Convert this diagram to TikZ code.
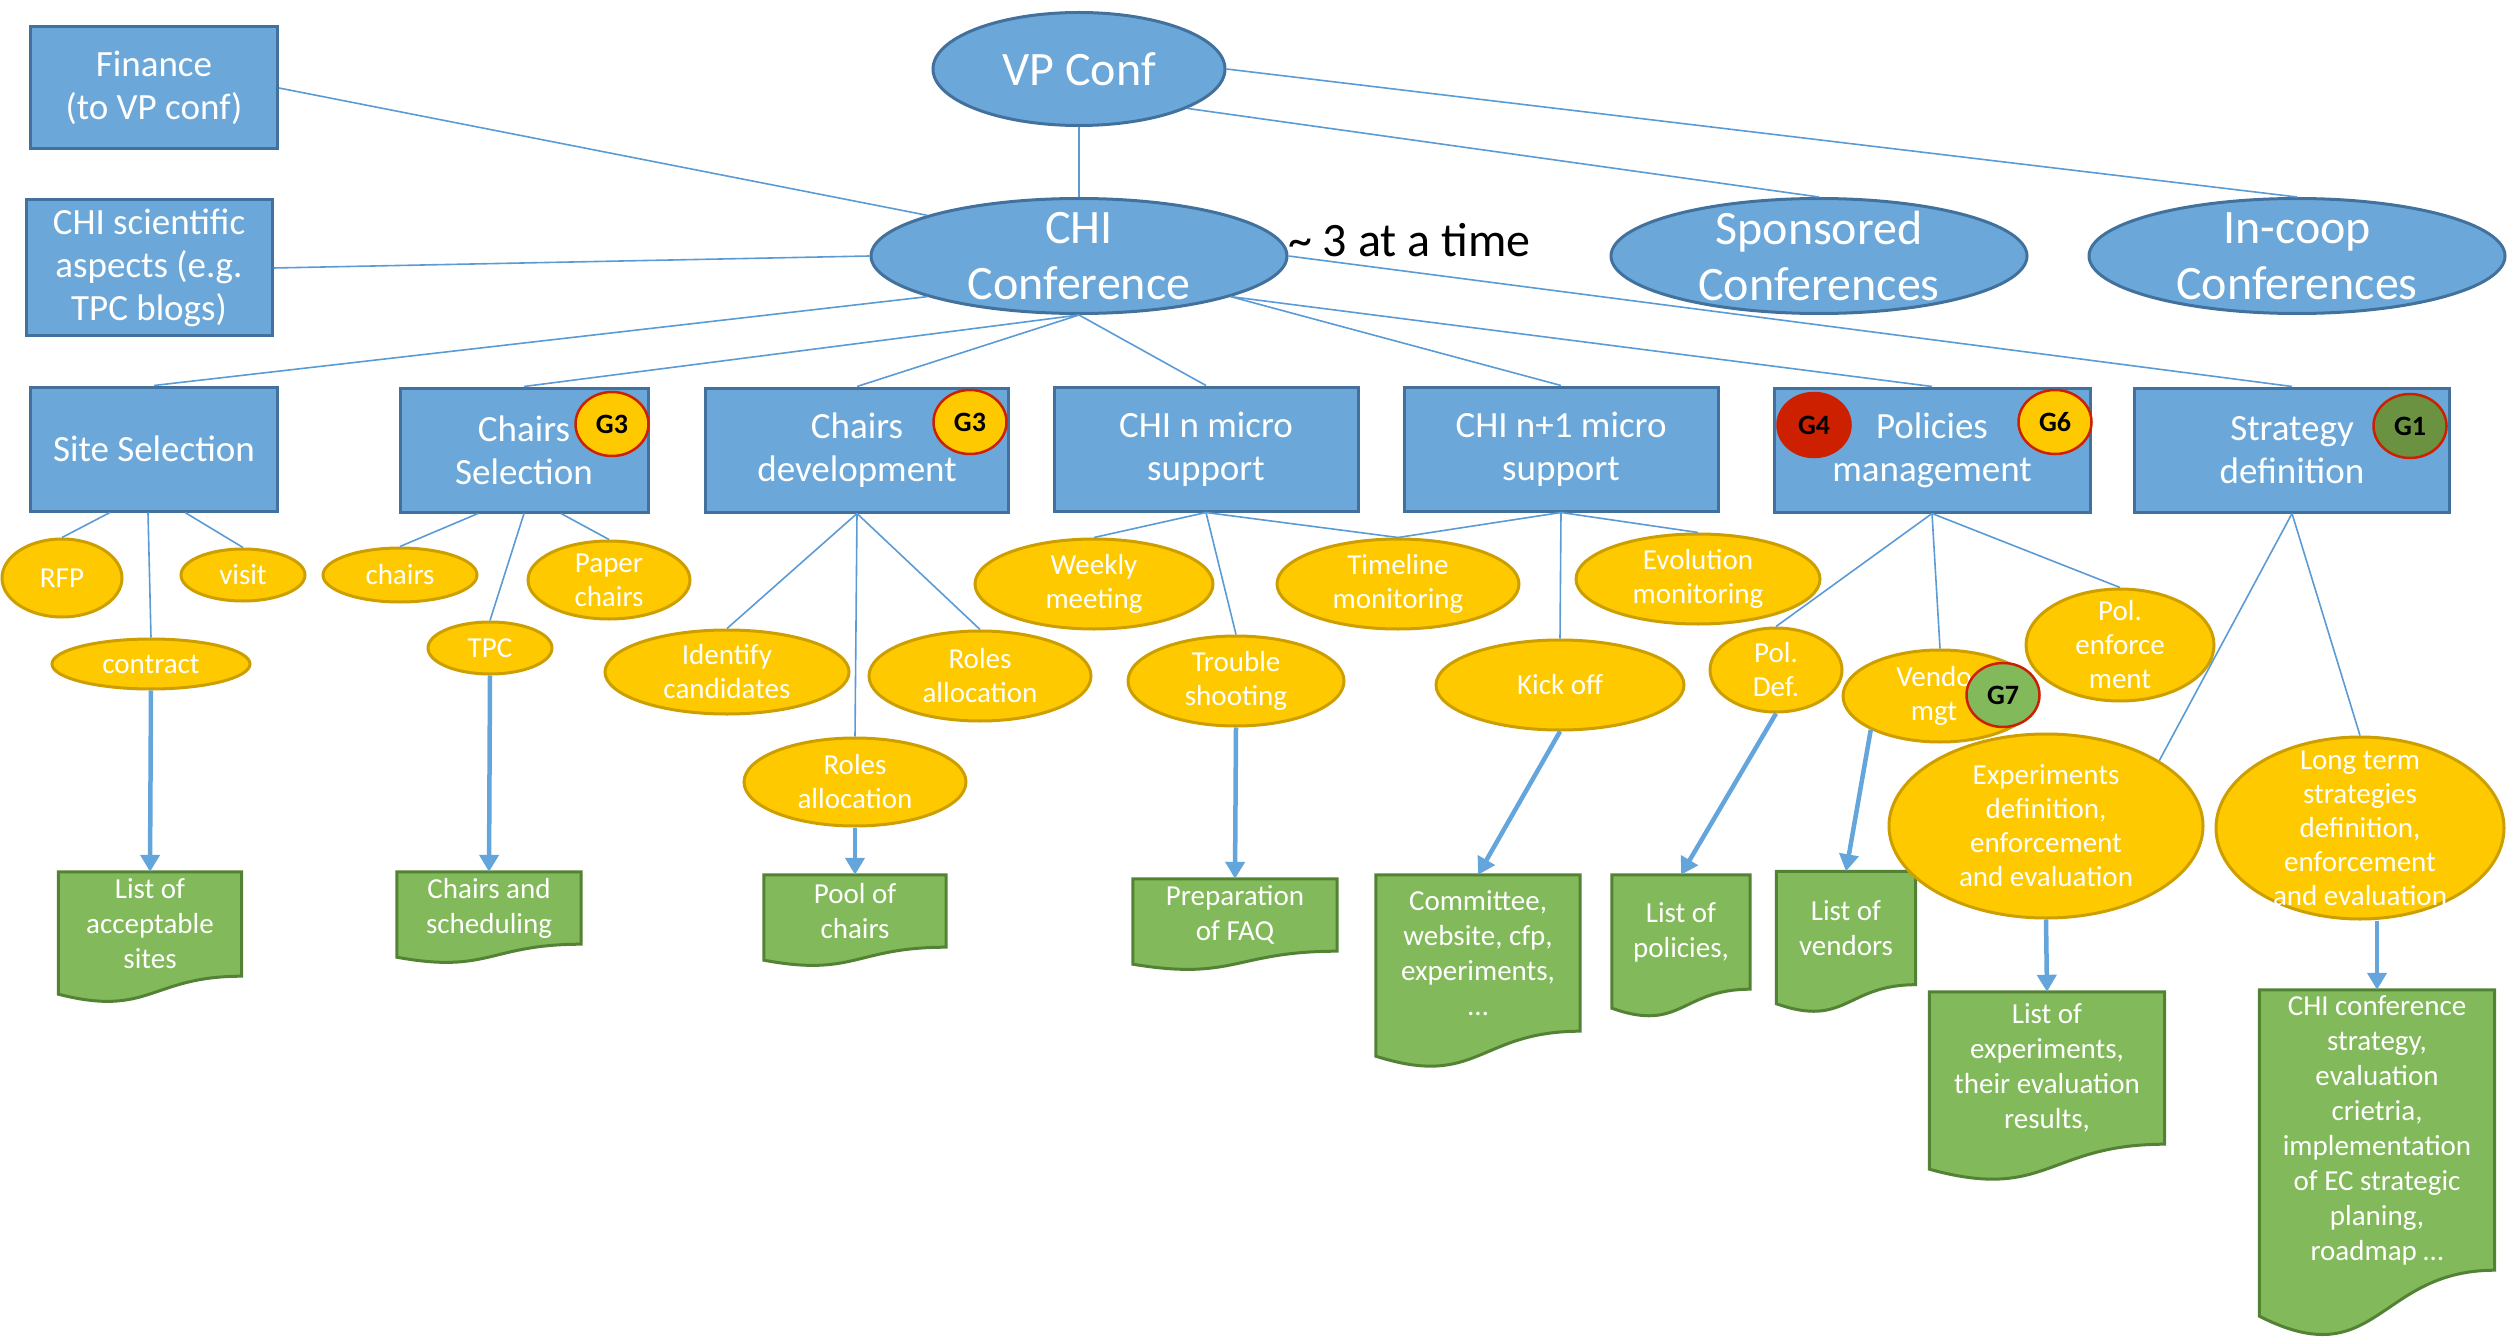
\documentclass[tikz,border=0pt]{standalone}
\usepackage{fontspec}
\setmainfont{Carlito}
\usetikzlibrary{shapes.geometric,arrows.meta,calc,backgrounds}

\definecolor{boxblue}{RGB}{107,168,217}
\definecolor{boxline}{RGB}{65,113,156}
\definecolor{linkblue}{RGB}{91,155,213}
\definecolor{arrowblue}{RGB}{100,165,220}
\definecolor{taskyellow}{RGB}{255,201,0}
\definecolor{taskline}{RGB}{204,158,0}
\definecolor{docgreen}{RGB}{130,185,90}
\definecolor{docline}{RGB}{84,130,53}
\definecolor{badgered}{RGB}{204,32,0}
\definecolor{badgeolive}{RGB}{106,146,64}

% document shape with a wavy bottom, drawn round a named node
\newcommand{\docshape}[2]{%
  \filldraw[docbody] (#1.north west) -- (#1.north east) -- (#1.south east)
    .. controls (#1.south) and ($(#1.south)+(0,2.3*#2)$) .. ($(#1.south west)+(0,#2)$) -- cycle;}

\begin{document}
\begin{tikzpicture}[x=1pt,y=1pt,yscale=-1,
  group/.style={draw=boxline,fill=boxblue,line width=3pt,text=white,align=center,inner sep=0pt,minimum height=124pt,font=\fontsize{37}{43}\selectfont},
  conf/.style={ellipse,draw=boxline,fill=boxblue,line width=3pt,inner sep=0pt,minimum width=416pt,minimum height=115pt},
  conftext/.style={text=white,align=center,inner sep=0pt,font=\fontsize{48}{56}\selectfont},
  task/.style={ellipse,draw=taskline,fill=taskyellow,line width=3pt,inner sep=0pt},
  tasktext/.style={text=white,align=center,inner sep=0pt,font=\fontsize{29}{34}\selectfont},
  badge/.style={ellipse,draw=badgered,line width=2.5pt,inner sep=0pt,minimum width=73pt,minimum height=64pt,font=\fontsize{28}{34}\selectfont\bfseries},
  doc/.style={inner sep=0pt,text=white,align=center,font=\fontsize{29}{35}\selectfont},
  docbody/.style={fill=docgreen,draw=docline,line width=3pt},
  link/.style={draw=linkblue,line width=1.6pt},
  flow/.style={draw=arrowblue,line width=4.5pt,-{Triangle[length=17pt,width=19pt]}}]
\useasboundingbox (0,0) rectangle (2509,1340);

%Shape: Rectangle
\node[group,minimum width=247pt,minimum height=122pt] (finance) at (154,88) {Finance\\(to VP conf)};
\node[group,minimum width=246pt,minimum height=136pt] (sci) at (149,268) {CHI scientific\\aspects (e.g.\\TPC blogs)};

%Shape: Ellipse
\node[conf,conftext,minimum width=292pt,minimum height=113pt] (vp) at (1079,69) {VP Conf};
\node[conf,label={[conftext]center:CHI\\Conference}] (chi) at (1079,256) {};
\node[conf,label={[conftext]center:Sponsored\\Conferences}] (sponsored) at (1819,256) {};
\node[conf,label={[conftext]center:In-coop\\Conferences}] (incoop) at (2297,256) {};
\node[conftext,text=black,anchor=west] (ratio) at (1288,240) {\textasciitilde\ 3 at a time};

%Shape: Rectangle
\node[group,minimum width=247pt] (site) at (154,449) {Site Selection};
\node[group,minimum width=248pt] (chairsel) at (524,450) {Chairs\\Selection};
\node[group,minimum width=303pt] (chairdev) at (857,450) {Chairs\\development};
\node[group,minimum width=304pt] (micron) at (1206,449) {CHI n micro\\support};
\node[group,minimum width=314pt] (micronext) at (1561,449) {CHI n+1 micro\\support};
\node[group,minimum width=316pt] (policies) at (1932,450) {Policies\\management};
\node[group,minimum width=315pt] (strategy) at (2292,450) {Strategy\\definition};

%Shape: Circle
\node[badge,fill=taskyellow] (gchairsel) at (612,424) {G3};
\node[badge,fill=taskyellow] (gchairdev) at (970,422) {G3};
\node[badge,fill=badgered] (gpolicy) at (1814,425) {G4};
\node[badge,fill=taskyellow] (gpolicyb) at (2055,422) {G6};
\node[badge,fill=badgeolive] (gstrategy) at (2410,426) {G1};

%Shape: Ellipse
\node[task,minimum width=120pt,minimum height=78pt,label={[tasktext]center:RFP}] (rfp) at (62,578) {};
\node[task,minimum width=124pt,minimum height=52pt,label={[tasktext]center:visit}] (visit) at (243,575) {};
\node[task,minimum width=198pt,minimum height=50pt,label={[tasktext]center:contract}] (contract) at (151,664) {};
\node[task,minimum width=154pt,minimum height=54pt,label={[tasktext]center:chairs}] (chairs) at (400,575) {};
\node[task,minimum width=162pt,minimum height=78pt,label={[tasktext]center:Paper\\chairs}] (paper) at (609,580) {};
\node[task,minimum width=124pt,minimum height=52pt,label={[tasktext]center:TPC}] (tpc) at (490,648) {};
\node[task,minimum width=244pt,minimum height=84pt,label={[tasktext]center:Identify\\candidates}] (identify) at (727,672) {};
\node[task,minimum width=222pt,minimum height=88pt,label={[tasktext]center:Roles\\allocation}] (rolesb) at (855,782) {};
\node[task,minimum width=222pt,minimum height=90pt,label={[tasktext]center:Roles\\allocation}] (rolesa) at (980,676) {};
\node[task,minimum width=238pt,minimum height=90pt,label={[tasktext]center:Weekly\\meeting}] (weekly) at (1094,584) {};
\node[task,minimum width=242pt,minimum height=90pt,label={[tasktext]center:Timeline\\monitoring}] (timeline) at (1398,584) {};
\node[task,minimum width=244pt,minimum height=90pt,label={[tasktext]center:Evolution\\monitoring}] (evolution) at (1698,579) {};
\node[task,minimum width=216pt,minimum height=90pt,label={[tasktext]center:Trouble\\shooting}] (trouble) at (1236,681) {};
\node[task,minimum width=248pt,minimum height=90pt,label={[tasktext]center:Kick off}] (kickoff) at (1560,685) {};
\node[task,minimum width=132pt,minimum height=84pt,label={[tasktext]center:Pol.\\Def.}] (poldef) at (1776,670) {};
\node[task,minimum width=194pt,minimum height=92pt,label={[tasktext,xshift=-6pt]center:Vendo\\mgt}] (vendo) at (1940,696) {};
\node[badge,fill=docgreen] (gvendo) at (2003,695) {G7};
\node[task,minimum width=188pt,minimum height=112pt,label={[tasktext]center:Pol.\\enforce\\ment}] (polenf) at (2120,645) {};
\node[task,minimum width=314pt,minimum height=184pt,label={[tasktext]center:Experiments\\definition,\\enforcement\\and evaluation}] (expdef) at (2046,826) {};
\node[task,minimum width=288pt,minimum height=182pt,label={[tasktext]center:Long term\\strategies\\definition,\\enforcement\\and evaluation}] (longterm) at (2360,828) {};

%Shape: Document
\node[doc,minimum width=183pt,minimum height=104pt] (sites) at (150,924) {List of\\acceptable\\sites};
\node[doc,minimum width=184pt,minimum height=72pt] (sched) at (489,908) {Chairs and\\scheduling};
\node[doc,minimum width=182pt,minimum height=72pt] (pool) at (855,911) {Pool of\\chairs};
\node[doc,minimum width=204pt,minimum height=72pt] (faq) at (1235,915) {Preparation\\of FAQ};
\node[doc,minimum width=204pt,minimum height=156pt] (committee) at (1478,953) {Committee,\\website, cfp,\\experiments,\\…};
\node[doc,minimum width=138pt,minimum height=114pt] (policylist) at (1681,932) {List of\\policies,};
\node[doc,minimum width=139pt,minimum height=113pt] (vendorlist) at (1846,928) {List of\\vendors};
\node[doc,minimum width=235pt,minimum height=152pt] (explist) at (2047,1068) {List of\\experiments,\\their evaluation\\results,};
\node[doc,minimum width=235pt,minimum height=280pt] (stratdoc) at (2377,1130) {CHI conference\\strategy,\\evaluation\\crietria,\\implementation\\of EC strategic\\planing,\\roadmap …};
\begin{scope}[on background layer]
\docshape{sites}{18}
\docshape{sched}{13}
\docshape{pool}{13}
\docshape{faq}{13}
\docshape{committee}{25}
\docshape{policylist}{19}
\docshape{vendorlist}{19}
\docshape{explist}{25}
\docshape{stratdoc}{46}
\end{scope}

%Straight Lines
\draw[link] (vp.south) -- (chi.north);
\draw[link] (vp.-20) -- (sponsored.north);
\draw[link] (vp.east) -- (incoop.north);
\draw[link] (finance.east) -- (chi.165);
\draw[link] (sci.east) -- (chi.west);
\draw[link] (chi.195) -- (site.north);
\draw[link] (chi.south) -- (chairsel.north);
\draw[link] (chi.south) -- (chairdev.north);
\draw[link] (chi.south) -- (micron.north);
\draw[link] (chi.-15) -- (micronext.north);
\draw[link] (chi.-15) -- (policies.north);
\draw[link] (chi.east) -- (strategy.north);

%Straight Lines
\draw[link] ([xshift=-44pt]site.south) -- (rfp.north);
\draw[link] ([xshift=-6pt]site.south) -- (contract.north);
\draw[link] ([xshift=31pt]site.south) -- (visit.north);
\draw[link] ([xshift=-46pt]chairsel.south) -- (chairs.north);
\draw[link] (chairsel.south) -- (tpc.north);
\draw[link] ([xshift=37pt]chairsel.south) -- (paper.north);
\draw[link] (chairdev.south) -- (identify.north);
\draw[link] (chairdev.south) -- (rolesb.north);
\draw[link] (chairdev.south) -- (rolesa.north);
\draw[link] (micron.south) -- (weekly.north);
\draw[link] (micron.south) -- (trouble.north);
\draw[link] (micron.south) -- (timeline.north);
\draw[link] (micronext.south) -- (timeline.north);
\draw[link] (micronext.south) -- (kickoff.north);
\draw[link] (micronext.south) -- (evolution.north);
\draw[link] (policies.south) -- (poldef.north);
\draw[link] (policies.south) -- (vendo.north);
\draw[link] (policies.south) -- (polenf.north);
\draw[link] (strategy.south) -- (expdef.30);
\draw[link] (strategy.south) -- (longterm.north);

%Arrows
\draw[flow] (contract.south) -- (sites.north);
\draw[flow] (tpc.south) -- (sched.north);
\draw[flow] (rolesb.south) -- (pool.north);
\draw[flow] (trouble.south) -- (faq.north);
\draw[flow] (kickoff.south) -- (committee.north);
\draw[flow] (poldef.south) -- (policylist.north);
\draw[flow] (vendo.206) -- (vendorlist.north);
\draw[flow] (expdef.south) -- (explist.north);
\draw[flow] (stratdoc.north |- longterm.south) -- (stratdoc.north);

\end{tikzpicture}
\end{document}
